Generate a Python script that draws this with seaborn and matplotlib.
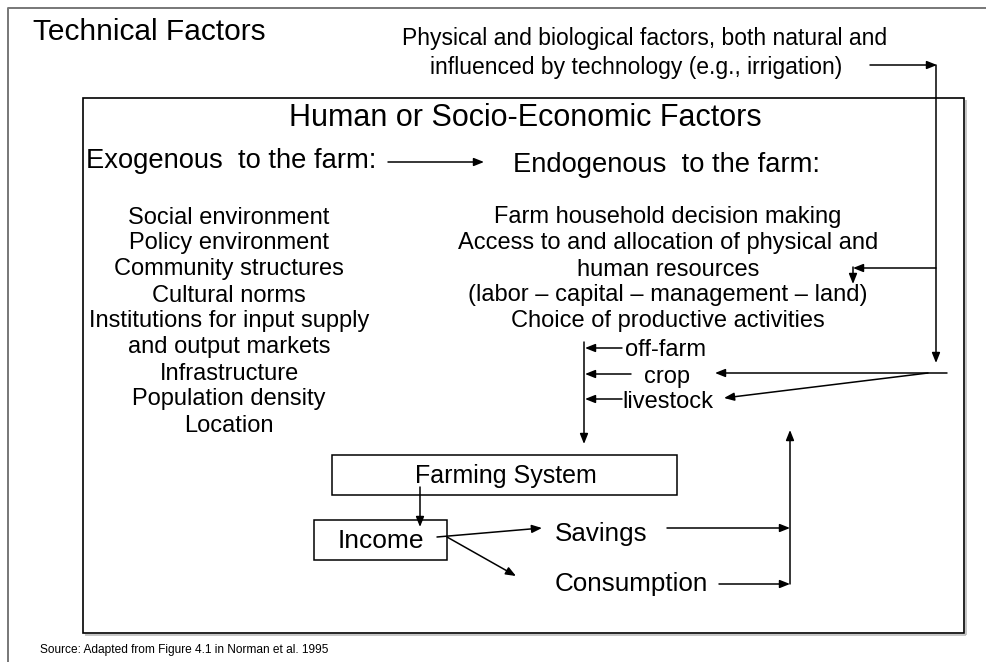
import matplotlib
matplotlib.use("Agg")
import matplotlib.pyplot as plt
import seaborn as sns

sns.set_theme(style="white")
plt.rcParams['font.family'] = ['Liberation Sans', 'DejaVu Sans']

# ---- text content ----
title_left = "Technical Factors"
tech_lines = ["Physical and biological factors, both natural and",
              "influenced by technology (e.g., irrigation)"]
box_title = "Human or Socio-Economic Factors"
exo_label = "Exogenous  to the farm:"
endo_label = "Endogenous  to the farm:"
exo_items = ["Social environment", "Policy environment", "Community structures",
             "Cultural norms", "Institutions for input supply", "and output markets",
             "Infrastructure", "Population density", "Location"]
endo_items = ["Farm household decision making",
              "Access to and allocation of physical and",
              "human resources",
              "(labor \u2013 capital \u2013 management \u2013 land)",
              "Choice of productive activities"]
activities = ["off-farm", "crop", "livestock"]
system_label = "Farming System"
income_label = "Income"
uses = ["Savings", "Consumption"]
source = "Source: Adapted from Figure 4.1 in Norman et al. 1995"

# ---- layout (pixel coordinates) ----
W, H = 987, 662
fig = plt.figure(figsize=(W / 100, H / 100), dpi=100)
ax = fig.add_axes([0, 0, 1, 1])
ax.set_xlim(0, W)
ax.set_ylim(H, 0)
ax.axis('off')

LW = 1.1
TY = 1.5  # small vertical nudge for text

def txt(x, y, s, size, ha='center', va='center'):
    ax.text(x, y + TY, s, fontsize=size, ha=ha, va=va, color='black')

def arrow(x0, y0, x1, y1):
    ax.annotate('', xy=(x1, y1), xytext=(x0, y0),
                arrowprops=dict(arrowstyle='-|>,head_length=0.55,head_width=0.22',
                                color='black', lw=LW, mutation_scale=11,
                                shrinkA=0, shrinkB=0))

def line(xs, ys, color='black', lw=LW):
    ax.plot(xs, ys, color=color, lw=lw, solid_capstyle='butt')

def rect(x0, y0, x1, y1, lw=LW, color='black'):
    ax.add_patch(plt.Rectangle((x0, y0), x1 - x0, y1 - y0, fill=False,
                               edgecolor=color, lw=lw))

# outer frame (extends past the image at right/bottom)
ax.plot([8, 8, W + 5], [H + 5, 8, 8], color='#777777', lw=1.4)

# inner box with slight shadow on right/bottom
line([966, 966], [100, 635], color='#bbbbbb', lw=1.2)
line([85, 966], [635, 635], color='#bbbbbb', lw=1.2)
rect(83, 98, 964, 633, lw=1.2)

txt(33, 30, title_left, 21.5, ha='left')
txt(645, 37, tech_lines[0], 16.5)
txt(636, 66, tech_lines[1], 16.5)

txt(525, 116, box_title, 22)
txt(86, 160, exo_label, 19.7, ha='left')
txt(513, 163, endo_label, 19.7, ha='left')
arrow(388, 162, 484, 162)

for i, s in enumerate(exo_items):
    txt(229, 216 + 26 * i, s, 17)
for i, s in enumerate(endo_items):
    txt(668, 216 + 26 * i, s, 17)

# activity inputs
act_pos = [(666, 349), (667, 375), (668, 400)]
act_from = [622, 631, 622]
for (x, y), s, xf in zip(act_pos, activities, act_from):
    txt(x, y, s, 17)
    arrow(xf, y - 1, 585, y - 1)
arrow(584, 342, 584, 444)

# technical factors flow on the right
arrow(870, 65, 937, 65)
arrow(936, 65, 936, 363)
arrow(936, 268, 853, 268)
arrow(853, 267, 853, 284)
arrow(947, 373, 715, 373)
arrow(928, 373, 724, 398)

# farming system & income
rect(332, 455, 677, 495)
txt(506, 475, system_label, 18)
arrow(420, 487, 420, 527)
rect(314, 520, 447, 560)
txt(381, 540, income_label, 19)

arrow(437, 537, 542, 528)
arrow(447, 537, 516, 576)
txt(555, 532, uses[0], 18.7, ha='left')
txt(555, 582, uses[1], 18.7, ha='left')
arrow(667, 528, 790, 528)
arrow(719, 584, 790, 584)
arrow(790, 584, 790, 430)

txt(40, 648, source, 8.6, ha='left')

fig.savefig("out.png", dpi=100, facecolor='white')
